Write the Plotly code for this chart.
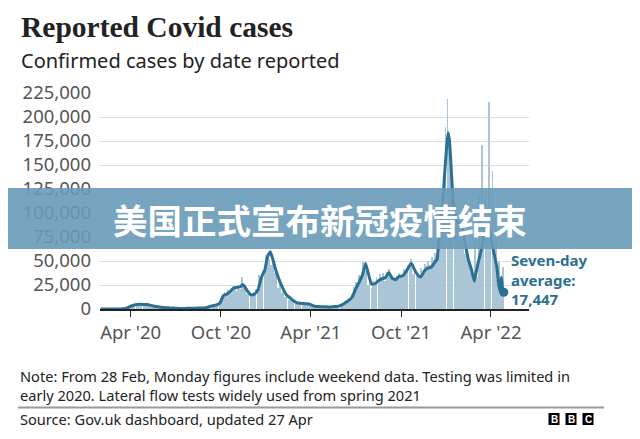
import pandas as pd
import plotly.graph_objects as go

# 7-day average
avg_dates = [
    "2020-01-31", "2020-02-15", "2020-03-01", "2020-03-10", "2020-03-17", "2020-03-24",
    "2020-03-31", "2020-04-07", "2020-04-14", "2020-04-21", "2020-04-28", "2020-05-05",
    "2020-05-12", "2020-05-19", "2020-05-26", "2020-06-02", "2020-06-09", "2020-06-16",
    "2020-06-23", "2020-06-30", "2020-07-07", "2020-07-14", "2020-07-21", "2020-07-28",
    "2020-08-04", "2020-08-11", "2020-08-18", "2020-08-25", "2020-09-01", "2020-09-08",
    "2020-09-15", "2020-09-22", "2020-09-29", "2020-10-06", "2020-10-13", "2020-10-20",
    "2020-10-27", "2020-11-03", "2020-11-10", "2020-11-14", "2020-11-17", "2020-11-24",
    "2020-12-01", "2020-12-08", "2020-12-15", "2020-12-22", "2020-12-29", "2021-01-03",
    "2021-01-09", "2021-01-14", "2021-01-21", "2021-01-28", "2021-02-04", "2021-02-11",
    "2021-02-18", "2021-02-25", "2021-03-04", "2021-03-11", "2021-03-18", "2021-03-25",
    "2021-04-01", "2021-04-08", "2021-04-15", "2021-04-22", "2021-04-29", "2021-05-06",
    "2021-05-13", "2021-05-20", "2021-05-27", "2021-06-03", "2021-06-10", "2021-06-17",
    "2021-06-24", "2021-07-01", "2021-07-08", "2021-07-15", "2021-07-21", "2021-07-26",
    "2021-08-02", "2021-08-09", "2021-08-16", "2021-08-23", "2021-08-30", "2021-09-06",
    "2021-09-13", "2021-09-20", "2021-09-27", "2021-10-04", "2021-10-11", "2021-10-17",
    "2021-10-22", "2021-10-29", "2021-11-05", "2021-11-10", "2021-11-17", "2021-11-24",
    "2021-12-01", "2021-12-08", "2021-12-13", "2021-12-17", "2021-12-24", "2021-12-28",
    "2022-01-01", "2022-01-04", "2022-01-07", "2022-01-10", "2022-01-14", "2022-01-19",
    "2022-01-24", "2022-01-31", "2022-02-07", "2022-02-14", "2022-02-21", "2022-02-26",
    "2022-03-01", "2022-03-06", "2022-03-13", "2022-03-18", "2022-03-23", "2022-03-27",
    "2022-04-01", "2022-04-06", "2022-04-13", "2022-04-16", "2022-04-19", "2022-04-22",
    "2022-04-25", "2022-04-27",
]
avg_cases = [
    0, 1, 5, 40, 250, 900,
    2600, 3900, 4700, 4900, 4600, 4800,
    3800, 2900, 2300, 1900, 1500, 1250,
    1050, 850, 650, 600, 650, 700,
    800, 900, 1050, 1150, 1400, 2500,
    3400, 4200, 6300, 14000, 15500, 18500,
    22000, 22500, 23500, 25500, 24000, 18500,
    14500, 15500, 20000, 33000, 41000, 54000,
    59600, 52000, 39000, 29000, 21000, 14500,
    11500, 8500, 6300, 5900, 5600, 5400,
    4600, 3000, 2600, 2400, 2300, 2200,
    2200, 2500, 3000, 4300, 6500, 8900,
    12500, 21000, 28000, 36000, 47500, 38000,
    26000, 26500, 29500, 31500, 32500, 38000,
    32000, 30500, 34000, 34500, 39000, 44500,
    47500, 40000, 34500, 33500, 39500, 42500,
    43500, 48500, 52000, 80000, 108000, 140000,
    168000, 183500, 175000, 150000, 115000, 95000,
    90000, 88000, 70000, 52000, 40000, 29000,
    36000, 48000, 63000, 78000, 88000, 86000,
    75000, 61000, 43000, 28000, 18700, 33000,
    19000, 17447,
]

# daily reported cases, one Monday and one Thursday per week
mon_cases = [
    0, 1, 0, 3,                                  # Feb 2020
    12, 50, 200, 900, 2600,                      # Mar
    3800, 4300, 4500, 4300,                      # Apr
    3900, 3400, 2700, 1600,                      # May
    1600, 1200, 1000, 950, 700,                  # Jun
    550, 500, 550, 600,                          # Jul
    700, 750, 700, 1000, 1300,                   # Aug
    2900, 2600, 4400, 4000,                      # Sep
    12600, 13900, 18800, 20900,                  # Oct
    18900, 21300, 21400, 15500, 12300,           # Nov
    14700, 20300, 33300, 41400,                  # Dec
    58800, 46100, 37500, 22200,                  # Jan 2021
    16800, 12400, 9800, 8900,                    # Feb
    5500, 4700, 5100, 5300, 4000,                # Mar
    2400, 1900, 2500, 1700,                      # Apr
    1600, 1900, 2200, 2400, 3200,                # May
    5700, 7700, 10600, 22900,                    # Jun
    27300, 34500, 39900, 24900,                  # Jul
    21900, 25200, 26700, 31900, 29000,           # Aug
    41200, 30800, 31500, 37900,                  # Sep
    33800, 40200, 49200, 36600,                  # Oct
    33900, 32300, 36900, 44900, 46100,           # Nov
    51500, 54700, 91700, 98500,                  # Dec
    218700, 142200, 84400, 88400, 92400,         # Jan 2022
    57600, 51900, 41300, 70000,                  # Feb
    120000, 171000, 118000, 216000,              # Mar
    144000, 95000, 49000, 44000,                 # Apr
]
thu_cases = [
    1, 0, 0, 3,
    25, 130, 600, 1800, 4300,
    4500, 5000, 5400, 6200,
    4600, 3400, 2600, 2000,
    1800, 1500, 1200, 1100, 850,
    650, 650, 750, 850,
    950, 1050, 1200, 1500, 2000,
    2900, 3400, 6600, 7100,
    17500, 19700, 21300, 24000,
    25000, 33500, 22900, 17500, 16300,
    20900, 35300, 39200, 55900,
    52600, 48700, 37900, 28700,
    19100, 13500, 12000, 9000,
    6600, 6700, 6300, 6400, 4500,
    3000, 2700, 2700, 2400,
    2600, 2700, 2900, 3500, 6200,
    8100, 11000, 16100, 27900,
    35100, 48500, 39900, 31100,
    29600, 33000, 36600, 38000, 38100,
    38000, 33000, 34500, 35800,
    42000, 45100, 52000, 39900,
    37200, 42500, 46900, 50000, 53900,
    58200, 88400, 119800, 189200,
    179800, 109100, 107400, 97000, 68200,
    66200, 45800, 36100, 33000,
    54000, 74000, 88000, 76000,
    55000, 35000, 21000,
]

tick_dates = ["2020-04-01", "2020-10-01", "2021-04-01", "2021-10-01", "2022-04-01"]
tick_text = ["Apr '20", "Oct '20", "Apr '21", "Oct '21", "Apr '22"]

SANS = "Noto Sans"
LINE = "#2b6f93"
# page body has an 8px margin, so the figure is 16px smaller than the window
W, H = 624, 423
L, R, T, B = 92, 103, 85, 122


def px(x):
    # x in window pixels -> paper
    return (x - 100) / 429


def py(y):
    # y in window pixels -> paper
    return (309 - y) / 216


mon_dates = pd.date_range("2020-02-03", periods=len(mon_cases), freq="7D")
thu_dates = pd.date_range("2020-02-06", periods=len(thu_cases), freq="7D")
bar_x = list(mon_dates) + list(thu_dates)
bar_y = mon_cases + thu_cases

fig = go.Figure()
fig.add_trace(go.Bar(
    x=bar_x, y=bar_y, width=1.6 * 86400000,
    marker=dict(color="#a9c5d6", line_width=0),
    hoverinfo="skip",
))
fig.add_trace(go.Scatter(
    x=pd.to_datetime(avg_dates), y=avg_cases, mode="lines",
    line=dict(color=LINE, width=3, shape="spline", smoothing=0.4),
))
fig.add_trace(go.Scatter(
    x=[pd.to_datetime(avg_dates[-1])], y=[avg_cases[-1]], mode="markers",
    marker=dict(color=LINE, size=9),
))

fig.update_xaxes(
    type="date", range=["2020-01-30", "2022-06-17"],
    tickvals=tick_dates, ticktext=tick_text,
    ticks="outside", ticklen=6, tickcolor="#222", tickwidth=1,
    showline=True, linecolor="#222", linewidth=1.5,
    showgrid=False, zeroline=False,
    tickfont=dict(family=SANS, size=18.5, color="#555"),
)
fig.update_yaxes(
    range=[0, 225000], dtick=25000, tickformat=",",
    showgrid=True, gridcolor="#dcdcdc", gridwidth=1,
    zeroline=False, showline=False, ticks="",
    ticklabelstandoff=8,
    tickfont=dict(family=SANS, size=18.5, color="#555"),
)


def note(text, x, y, size, color="#222", family=SANS, anchor="left"):
    return dict(text=text, x=px(x), y=py(y), xref="paper", yref="paper",
                xanchor=anchor, yanchor="middle", align="left", showarrow=False,
                font=dict(family=family, size=size, color=color))


annotations = [
    note("<b>Reported Covid cases</b>", 19, 27, 29.5, family="Liberation Serif"),
    note("Confirmed cases by date reported", 19, 60, 20),
    note("<b>Seven-day<br>average:<br>17,447</b>", 509, 279, 15, color=LINE),
    note("Note: From 28 Feb, Monday figures include weekend data. Testing was limited in"
         "<br>early 2020. Lateral flow tests widely used from spring 2021", 18, 385, 14.6),
    note("Source: Gov.uk dashboard, updated 27 Apr", 18, 419, 14.6),
    note("<b>美国正式宣布新冠疫情结束</b>", 320, 219, 34.5, color="white",
         family="Noto Sans CJK SC", anchor="center"),
]
for i, letter in enumerate("BBC"):
    annotations.append(note("<b>%s</b>" % letter, 554 + 17 * i, 419, 10, color="white",
                            family="Liberation Sans", anchor="center"))

shapes = [
    dict(type="line", xref="paper", yref="paper", x0=px(18), x1=px(604), y0=py(407.5), y1=py(407.5),
         line=dict(color="#9a9a9a", width=2)),
    dict(type="rect", xref="paper", yref="paper", x0=px(0), x1=px(640), y0=py(249), y1=py(188),
         fillcolor="rgba(104,154,184,0.9)", line_width=0, layer="above"),
]
for i in range(3):
    shapes.append(dict(type="rect", xref="paper", yref="paper",
                       x0=px(548.5 + 17 * i), x1=px(559.5 + 17 * i), y0=py(425), y1=py(413),
                       fillcolor="black", line_width=0, layer="below"))

fig.update_layout(
    width=W, height=H,
    margin=dict(l=L, r=R, t=T, b=B),
    plot_bgcolor="white", paper_bgcolor="white",
    showlegend=False,
    annotations=annotations,
    shapes=shapes,
    bargap=0,
)

fig.write_html("out.html")
